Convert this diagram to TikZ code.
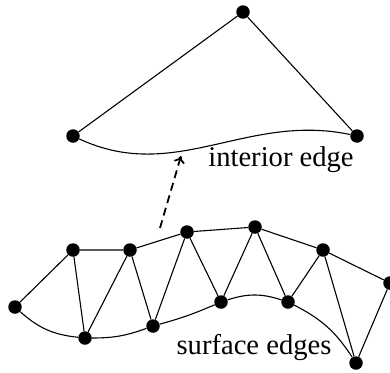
\documentclass[tikz,border=0pt]{standalone}
\usepackage{fontspec}
\setmainfont{Liberation Serif}
\usetikzlibrary{arrows.meta}
\tikzset{
  vertex/.style={circle,fill=black,inner sep=0pt,minimum size=13.5pt},
  edge/.style={line width=1.1pt},
  hint/.style={-{To[length=7pt,width=11pt]},line width=1.8pt,dash pattern=on 8pt off 5pt},
  caption/.style={font=\fontsize{28.6}{32}\selectfont}
}

\begin{document}
\begin{tikzpicture}[x=1pt,y=-1pt]
  \useasboundingbox (0,0) rectangle (390,372);
  % element with its curved interior edge
  \node[vertex] (top) at (243,12) {};
  \node[vertex] (left) at (73,136) {};
  \node[vertex] (right) at (357,136) {};
  \draw[edge] (left) -- (top) -- (right);
  \draw[edge] (left) to[out=-25,in=168] (right);
  \node[caption] (inner) at (281,160) {interior edge};
  % surface strip
  \node[vertex] (a) at (15,307) {};
  \node[vertex] (b) at (73,250) {};
  \node[vertex] (c) at (130,250) {};
  \node[vertex] (d) at (187,232) {};
  \node[vertex] (e) at (255,227) {};
  \node[vertex] (f) at (323,250) {};
  \node[vertex] (g) at (390,283) {};
  \node[vertex] (h) at (85,338) {};
  \node[vertex] (i) at (153,326) {};
  \node[vertex] (j) at (221,302) {};
  \node[vertex] (k) at (288,302) {};
  \node[vertex] (l) at (356,363) {};
  \draw[edge] (a) -- (b) -- (c) -- (d) -- (e) -- (f) -- (g);
  \draw[edge] (b) -- (h) -- (c) -- (i) -- (d) -- (j) -- (e) -- (k) -- (f) -- (l) -- (g);
  \draw[edge] (a) to[bend right=18] (h);
  \draw[edge] (h) to[bend right=10] (i);
  \draw[edge] (i) to[bend right=4] (j);
  \draw[edge] (j) to[bend left=18] (k);
  \draw[edge] (k) to[bend left=15] (l);
  \node[caption] (outer) at (254,348) {surface edges};
  % mapping
  \coordinate (from) at (160,228);
  \coordinate (to) at (181,156);
  \draw[hint] (from) -- (to);
\end{tikzpicture}
\end{document}
